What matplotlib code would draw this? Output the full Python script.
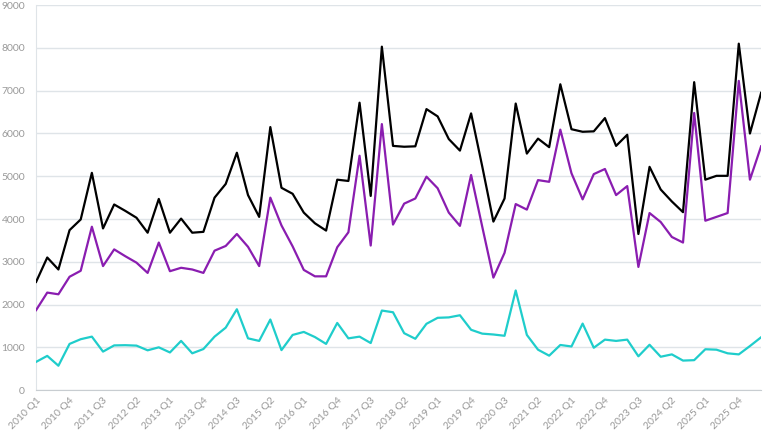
import matplotlib
matplotlib.use("Agg")
import matplotlib.pyplot as plt

plt.rcParams['font.family'] = ['Lato', 'DejaVu Sans']

# quarterly labels 2010 Q1 .. 2026 Q2
quarters = [f"{y} Q{q}" for y in range(2010, 2027) for q in range(1, 5)][:66]

total = [2530, 3100, 2820, 3740, 3990, 5080, 3780, 4340, 4190, 4030, 3680, 4470,
         3680, 4010, 3680, 3700, 4500, 4820, 5550, 4560, 4050, 6150, 4730, 4590,
         4150, 3900, 3730, 4920, 4890, 6720, 4540, 8030, 5710, 5690, 5700, 6570,
         6400, 5870, 5600, 6470, 5230, 3940, 4480, 6700, 5530, 5880, 5680, 7150,
         6100, 6040, 6050, 6360, 5710, 5970, 3650, 5220, 4690, 4410, 4160, 7200,
         4920, 5010, 5010, 8100, 6000, 6950]

purple_vals = [1870, 2280, 2240, 2650, 2790, 3820, 2900, 3290, 3130, 2980, 2740, 3450,
               2780, 2860, 2820, 2740, 3260, 3370, 3650, 3350, 2900, 4500, 3850, 3360,
               2810, 2660, 2660, 3340, 3690, 5480, 3380, 6220, 3870, 4360, 4480, 4990,
               4720, 4150, 3840, 5030, 3820, 2630, 3210, 4350, 4220, 4910, 4870, 6090,
               5070, 4460, 5050, 5170, 4560, 4770, 2880, 4140, 3930, 3580, 3450, 6480,
               3960, 4050, 4140, 7230, 4920, 5700]

cyan_vals = [660, 800, 570, 1080, 1190, 1250, 900, 1045, 1050, 1040, 930, 1000,
             880, 1150, 860, 960, 1250, 1460, 1890, 1210, 1150, 1650, 935, 1290,
             1360, 1240, 1080, 1570, 1210, 1250, 1100, 1860, 1820, 1330, 1200, 1550,
             1690, 1700, 1750, 1410, 1320, 1300, 1270, 2330, 1290, 945, 805, 1055,
             1020, 1555, 990, 1180, 1150, 1180, 790, 1060, 780, 835, 690, 700,
             955, 945, 860, 835, 1030, 1235]

fig = plt.figure(figsize=(7.68, 4.32), dpi=100)
ax = fig.add_axes([0.047, 0.097, 0.944, 0.891])

x = range(len(quarters))
ax.plot(x, total, color="#000000", linewidth=1.6, zorder=3)
ax.plot(x, purple_vals, color="#8a1db0", linewidth=1.6, zorder=3)
ax.plot(x, cyan_vals, color="#1fcdcb", linewidth=1.6, zorder=3)

ax.set_xlim(0, len(quarters) - 1)
ax.set_ylim(0, 9000)
ax.set_yticks(range(0, 9001, 1000))
ax.grid(axis="y", color="#dfe4e8", linewidth=1)
ax.set_axisbelow(True)

ax.set_xticks(list(x)[::3])
ax.set_xticklabels(quarters[::3], rotation=45, ha="right", va="top",
                   rotation_mode="anchor")
ax.tick_params(axis="both", length=0, labelsize=7.5, labelcolor="#999999")
ax.tick_params(axis="y", pad=8)
ax.tick_params(axis="x", pad=4)

for side in ["top", "right"]:
    ax.spines[side].set_visible(False)
ax.spines["left"].set_color("#dfe4e8")
ax.spines["bottom"].set_color("#c8cdd1")

fig.savefig("out.png", dpi=100)
